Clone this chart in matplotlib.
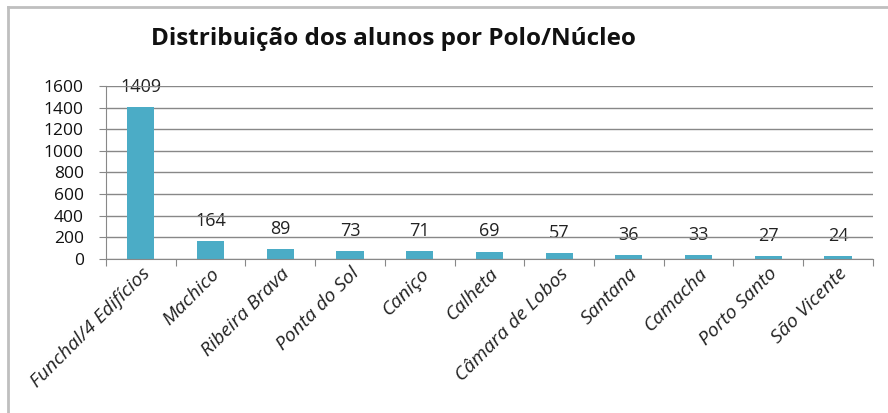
import matplotlib
matplotlib.use("Agg")
import matplotlib.pyplot as plt
from matplotlib.lines import Line2D
import numpy as np

polos = ["Funchal/4 Edifícios", "Machico", "Ribeira Brava", "Ponta do Sol",
         "Caniço", "Calheta", "Câmara de Lobos", "Santana", "Camacha",
         "Porto Santo", "São Vicente"]
alunos = [1409, 164, 89, 73, 71, 69, 57, 36, 33, 27, 24]
y_ticks = [0, 200, 400, 600, 800, 1000, 1200, 1400, 1600]

plt.rcParams['font.family'] = ['Open Sans', 'DejaVu Sans']

bar_color = "#4BACC6"
grid_color = "#888888"

fig = plt.figure(figsize=(8.88, 4.13), dpi=100)
ax = fig.add_axes([0.1194, 0.3729, 0.8636, 0.4189])
ax.set_axisbelow(True)

x = np.arange(len(polos))
ax.bar(x, alunos, width=0.39, color=bar_color, zorder=2)

# value labels above each bar
for xi, v in zip(x, alunos):
    ax.annotate(str(v), (xi, v), xytext=(0, 8), textcoords="offset points",
                ha="center", va="bottom", fontsize=13, color="#222222", zorder=0.4)

ax.set_xlim(-0.5, len(polos) - 0.5)
ax.set_ylim(0, 1600)
ax.set_yticks(y_ticks)
ax.set_yticklabels([str(t) for t in y_ticks], fontsize=12.5, color="#111111")
ax.yaxis.grid(True, color=grid_color, linewidth=1.0)

# category ticks at the boundaries, labels at centers
ax.set_xticks(np.arange(len(polos) + 1) - 0.5)
ax.set_xticklabels([])
ax.set_xticks(x, minor=True)
ax.set_xticklabels(polos, minor=True, rotation=45, ha="right",
                   rotation_mode="anchor", fontsize=14, style="italic",
                   color="#222222")
ax.tick_params(axis="x", which="minor", length=0, pad=4)
ax.tick_params(axis="x", which="major", length=5, color=grid_color, direction="out")
ax.tick_params(axis="y", length=5, color=grid_color, direction="out", pad=11)

for s in ["top", "right"]:
    ax.spines[s].set_visible(False)
ax.spines["left"].set_color(grid_color)
ax.spines["bottom"].set_color(grid_color)

fig.text(0.443, 0.905, "Distribuição dos alunos por Polo/Núcleo",
         ha="center", va="center", fontsize=17.5, fontweight="bold", color="#111111")

# chart frame border (cropped)
fig.add_artist(Line2D([0.009, 0.009], [0.0, 0.983], color="#bfbfbf", lw=2,
                      transform=fig.transFigure))
fig.add_artist(Line2D([0.009, 1.0], [0.983, 0.983], color="#bfbfbf", lw=2,
                      transform=fig.transFigure))

fig.savefig("out.png", dpi=100, facecolor="white")
